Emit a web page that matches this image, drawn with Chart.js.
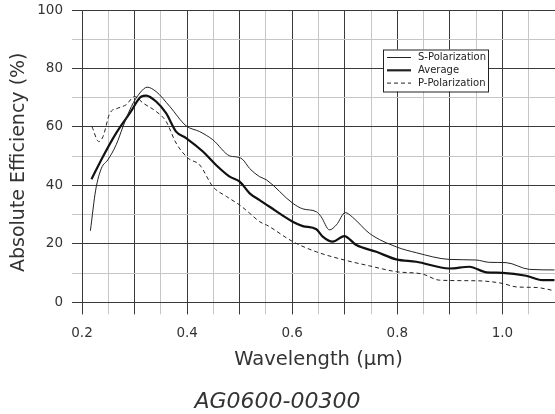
<!DOCTYPE html>
<html>
<head>
<meta charset="utf-8">
<script src="https://cdn.jsdelivr.net/npm/chart.js@4/dist/chart.umd.min.js"></script>
<style>
  html, body { margin: 0; padding: 0; background: #fff; }
  #wrap { width: 555px; height: 414px; position: relative; }
</style>
</head>
<body>
<div id="wrap"><canvas id="c" width="555" height="414"></canvas></div>
<script>
// ---- data ----
const sWavelength = [0.216,0.226,0.237,0.249,0.265,0.278,0.294,0.310,0.324,0.341,0.367,0.398,0.424,0.449,0.481,0.492,0.505,0.519,0.538,0.551,0.601,0.620,0.646,0.655,0.671,0.684,0.701,0.715,0.747,0.798,0.836,0.899,0.950,0.975,1.007,1.051,1.099];
const sValues     = [24.5,38.4,45.9,48.7,53.9,60.1,67.0,71.6,73.6,72.1,67.0,60.4,58.4,55.6,50.1,49.8,49.0,45.8,43.0,41.9,33.9,32.0,31.0,29.3,24.8,26.5,30.7,29.1,23.6,19.0,17.0,14.7,14.5,13.7,13.6,11.3,11.1];

const avgWavelength = [0.218,0.240,0.265,0.291,0.313,0.322,0.341,0.360,0.379,0.398,0.430,0.455,0.481,0.500,0.519,0.538,0.557,0.601,0.620,0.646,0.658,0.677,0.699,0.722,0.760,0.798,0.836,0.899,0.937,0.969,1.000,1.045,1.076,1.099];
const avgValues     = [42.1,49.9,57.9,64.7,70.4,70.7,68.7,64.7,58.4,56.2,51.6,47.0,43.0,41.3,37.3,35.0,32.7,27.6,26.1,25.0,22.5,20.8,22.7,19.6,17.3,14.7,13.9,11.6,12.2,10.3,10.1,9.1,7.6,7.6];

const pWavelength = [0.219,0.232,0.240,0.253,0.268,0.284,0.300,0.316,0.341,0.360,0.379,0.402,0.424,0.449,0.475,0.500,0.519,0.538,0.551,0.601,0.646,0.699,0.747,0.798,0.848,0.880,0.950,1.000,1.026,1.064,1.099];
const pValues     = [60.1,55.0,56.7,64.7,66.4,67.6,70.4,68.2,65.3,61.9,54.5,49.3,47.0,39.6,36.2,33.3,30.5,27.6,26.5,20.8,17.3,14.5,12.5,10.5,9.7,7.6,7.4,6.5,5.3,5.1,4.0];

const seriesNames = ['S-Polarization', 'Average', 'P-Polarization'];
const xTickLabels = ['0.2', '0.4', '0.6', '0.8', '1.0'];
const yTickLabels = ['0', '20', '40', '60', '80', '100'];
const xTitle = 'Wavelength (\u00b5m)';
const yTitle = 'Absolute Efficiency (%)\u00a0\u00a0';
const footer = 'AG0600-00300';

// ---- helpers ----
const pts = (xs, ys) => xs.map((x, i) => ({ x: x, y: ys[i] }));
const near = (a, b) => Math.abs(a - b) < 1e-6;
const DARK = '#3a3a3a', LIGHT = '#c6c6c6', TEXT = '#333';
const axisFont = { family: 'DejaVu Sans', size: 13.5 };

const legendInside = {
  id: 'legendInside',
  afterDatasetsDraw(chart) {
    const ctx = chart.ctx;
    const x0 = 383, y0 = 49.5, w = 105, h = 42;
    ctx.save();
    ctx.fillStyle = '#fff';
    ctx.fillRect(x0, y0, w, h);
    ctx.strokeStyle = '#222';
    ctx.lineWidth = 1;
    ctx.strokeRect(x0 + 0.5, y0 + 0.5, w, h);
    ctx.font = '10px "DejaVu Sans"';
    ctx.textBaseline = 'middle';
    ctx.fillStyle = '#222';
    chart.data.datasets.forEach((ds, i) => {
      const yy = y0 + 8 + i * 12.8;
      ctx.beginPath();
      ctx.lineWidth = ds.borderWidth;
      ctx.setLineDash(ds.borderDash || []);
      ctx.moveTo(x0 + 4, yy);
      ctx.lineTo(x0 + 28, yy);
      ctx.stroke();
      ctx.setLineDash([]);
      ctx.fillText(ds.label, x0 + 35, yy);
    });
    ctx.restore();
  }
};

const gridValuesX = [];
for (let i = 0; i <= 18; i++) gridValuesX.push(Math.round((0.2 + i * 0.05) * 1000) / 1000);

new Chart(document.getElementById('c'), {
  type: 'line',
  data: {
    datasets: [
      { label: seriesNames[0], data: pts(sWavelength, sValues), borderColor: '#222', borderWidth: 1, pointRadius: 0, fill: false, cubicInterpolationMode: 'monotone' },
      { label: seriesNames[1], data: pts(avgWavelength, avgValues), borderColor: '#111', borderWidth: 2.2, pointRadius: 0, fill: false, cubicInterpolationMode: 'monotone' },
      { label: seriesNames[2], data: pts(pWavelength, pValues), borderColor: '#222', borderWidth: 1, borderDash: [4, 3], pointRadius: 0, fill: false, cubicInterpolationMode: 'monotone' }
    ]
  },
  options: {
    responsive: false,
    animation: false,
    events: [],
    layout: { padding: { top: 10, right: 0, left: 0, bottom: 0 } },
    plugins: {
      legend: { display: false },
      tooltip: { enabled: false },
      title: {
        display: true, position: 'bottom', text: footer, color: TEXT,
        font: { family: 'DejaVu Sans', size: 22, style: 'italic', weight: 'normal', lineHeight: 1.05 },
        padding: { top: 6, bottom: 0 }
      }
    },
    scales: {
      x: {
        type: 'linear', min: 0.2, max: 1.1,
        afterBuildTicks: (s) => { s.ticks = gridValuesX.map(v => ({ value: v })); },
        afterFit: (s) => { s.height = 82.5; s.paddingRight = 0; s.paddingLeft = 0; },
        ticks: {
          color: TEXT, font: axisFont, padding: 11, maxRotation: 0, autoSkip: false,
          callback: (v) => { const l = xTickLabels.find(t => near(parseFloat(t), v)); return l || ''; }
        },
        grid: {
          color: (c) => (near(Math.round(c.tick.value * 10) / 10, c.tick.value) ? DARK : LIGHT),
          lineWidth: 1, tickLength: 12
        },
        border: { display: true, color: DARK, width: 1 },
        title: { display: true, text: xTitle, color: TEXT, font: { family: 'DejaVu Sans', size: 19.5 }, padding: { top: 0, bottom: 13.3 } }
      },
      y: {
        type: 'linear', min: 0, max: 100,
        afterFit: (s) => { s.width = 82; s.paddingTop = 0; s.paddingBottom = 0; },
        ticks: {
          stepSize: 10, color: TEXT, font: axisFont, padding: 9, autoSkip: false,
          callback: (v) => { const l = yTickLabels.find(t => near(parseFloat(t), v)); return l || ''; }
        },
        grid: {
          color: (c) => (c.tick.value % 20 === 0 ? DARK : LIGHT),
          lineWidth: 1, tickLength: 10
        },
        border: { display: true, color: DARK, width: 1 },
        title: { display: true, text: yTitle, color: TEXT, font: { family: 'DejaVu Sans', size: 19 }, padding: { top: 8, bottom: 2 } }
      }
    }
  },
  plugins: [legendInside]
});
</script>
</body>
</html>
